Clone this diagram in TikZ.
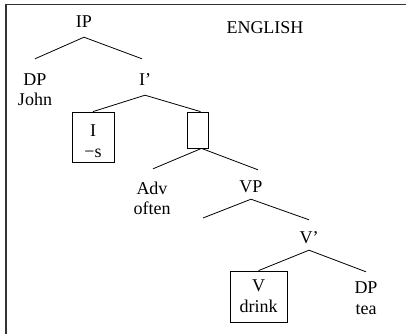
\documentclass[tikz,border=0pt]{standalone}
\usepackage{fontspec}
\setmainfont{Liberation Serif}
\begin{document}
\begin{tikzpicture}[x=1pt,y=-1pt,
  lab/.style={anchor=base,inner sep=0pt,text height=12pt,text depth=0pt,font=\fontsize{18}{21}\selectfont},
  word/.style={anchor=base,inner sep=0pt,font=\fontsize{18}{21}\selectfont},
  boxnode/.style={draw,line width=0.8pt,inner sep=0pt,align=center,font=\fontsize{18}{21}\selectfont},
  branch/.style={line width=0.8pt}]
\useasboundingbox (0,0) rectangle (406,334);
% frame
\draw[line width=1.2pt,black!80] (6,334) -- (6,4.5) -- (406,4.5);
% labels
\node[lab] (IP) at (84,28) {IP};
\node[word] (ENG) at (265,34) {ENGLISH};
\node[lab] (DP1) at (35,85) {DP};
\node[word] (John) at (35,106) {John};
\node[lab] (Ib) at (145,86) {I’};
\node[boxnode,minimum width=42pt,minimum height=50pt] (Ibox) at (93,137) {\rule{0pt}{20pt}I\\−s};
\node[boxnode,minimum width=21pt,minimum height=36pt] (Ebox) at (197.5,130) {};
\node[lab] (Adv) at (152,194) {Adv};
\node[word] (often) at (152,214) {often};
\node[lab] (VP) at (251,192) {VP};
\coordinate (Vt) at (203,218);
\node[lab] (Vb) at (309,243) {V’};
\node[boxnode,minimum width=57pt,minimum height=51pt] (Vbox) at (258.5,296.5) {V\\drink};
\node[lab] (DP2) at (366,293) {DP};
\node[word] (tea) at (366,314) {tea};
% branches
\draw[branch] ([yshift=-9pt]IP.south) -- ([yshift=14pt]DP1.north);
\draw[branch] ([yshift=-9pt]IP.south) -- ([yshift=15pt,xshift=-3pt]Ib.north);
\draw[branch] ([yshift=-9pt]Ib.south) -- (Ibox.north);
\draw[branch] ([yshift=-9pt]Ib.south) -- ([xshift=3pt]Ebox.north);
\draw[branch] ([xshift=4pt]Ebox.south) -- ([yshift=13pt,xshift=1pt]Adv.north);
\draw[branch] ([xshift=4pt]Ebox.south) -- ([yshift=10pt,xshift=7pt]VP.north);
\draw[branch] ([yshift=-7pt]VP.south) -- (Vt);
\draw[branch] ([yshift=-7pt]VP.south) -- ([yshift=11pt]Vb.north);
\draw[branch] ([yshift=-7pt]Vb.south) -- (Vbox.north);
\draw[branch] ([yshift=-7pt]Vb.south) -- ([yshift=9pt]DP2.north);
\end{tikzpicture}
\end{document}
